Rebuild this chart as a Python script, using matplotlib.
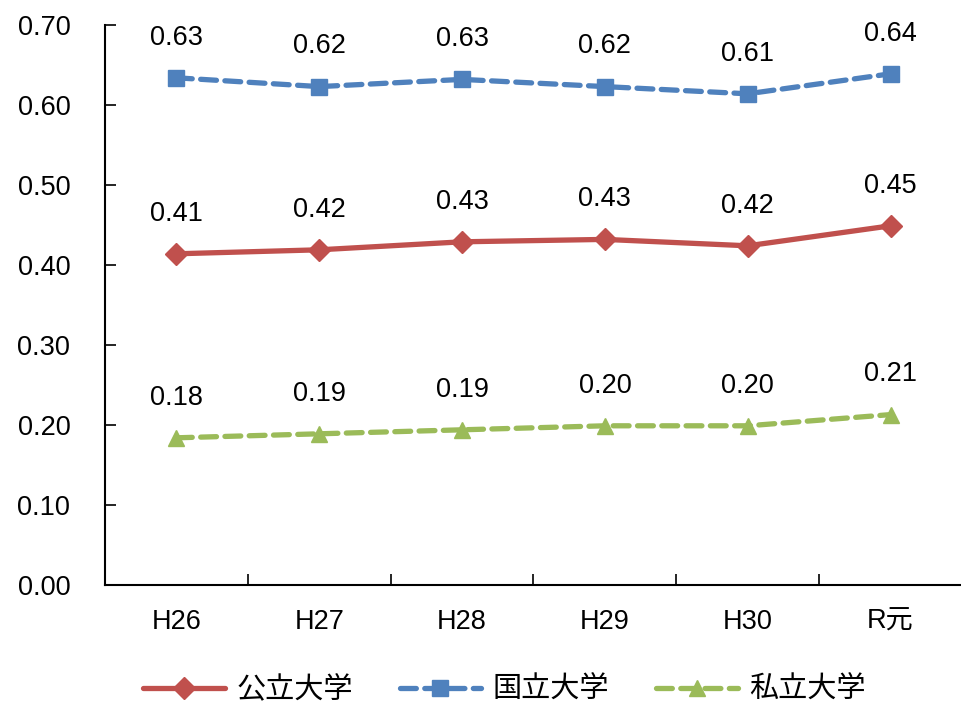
import matplotlib
matplotlib.use("Agg")
import matplotlib.pyplot as plt

categories = ["H26", "H27", "H28", "H29", "H30", "R元"]
public_univ = [0.414, 0.419, 0.429, 0.432, 0.424, 0.449]
national_univ = [0.634, 0.623, 0.632, 0.623, 0.614, 0.639]
private_univ = [0.184, 0.189, 0.194, 0.199, 0.199, 0.213]
yticks = [0.0, 0.1, 0.2, 0.3, 0.4, 0.5, 0.6, 0.7]

plt.rcParams['font.family'] = ['Liberation Sans', 'Noto Sans CJK JP', 'DejaVu Sans']

fig = plt.figure(figsize=(9.61, 7.04), dpi=100)
ax = fig.add_axes([105/961, 119/704, 857/961, 560/704])

x = list(range(len(categories)))
series = [
    ("公立大学", public_univ, "#C0504D", "D", "-", 11),
    ("国立大学", national_univ, "#4F81BD", "s", (0, (3, 1.6)), 11),
    ("私立大学", private_univ, "#9BBB59", "^", (0, (3, 1.6)), 12),
]
for name, vals, col, mk, ls, ms in series:
    ax.plot(x, vals, color=col, linestyle=ls, linewidth=3.8, marker=mk,
            markersize=ms, dash_capstyle='round', solid_capstyle='round',
            label=name)
    for xi, v in zip(x, vals):
        ax.annotate(f"{v:.2f}", (xi, v), xytext=(0, 29), textcoords='offset points',
                    ha='center', va='center', fontsize=19.5)

ax.set_xlim(-0.5, len(categories) - 0.5)
ax.set_ylim(0, 0.7)
ax.set_yticks(yticks)
ax.set_yticklabels([f"{t:.2f}" for t in yticks], fontsize=19.5)
ax.set_xticks(x)
ax.set_xticklabels(categories, fontsize=19.5)
ax.set_xticks([i - 0.5 for i in range(len(categories) + 1)], minor=True)
ax.tick_params(axis='x', which='major', length=0, pad=17)
ax.tick_params(axis='x', which='minor', direction='in', length=8, width=1.2)
ax.tick_params(axis='y', direction='in', length=8, width=1.2, pad=25)
for s in ['top', 'right']:
    ax.spines[s].set_visible(False)
for s in ['left', 'bottom']:
    ax.spines[s].set_linewidth(1.5)

leg = fig.legend(loc='center', bbox_to_anchor=(0.525, 0.02), ncol=3, frameon=False,
                 handlelength=2.8, columnspacing=1.6, handletextpad=0.4,
                 prop={'family': ['Noto Sans CJK JP'], 'size': 21})

fig.savefig("out.png", dpi=100)
